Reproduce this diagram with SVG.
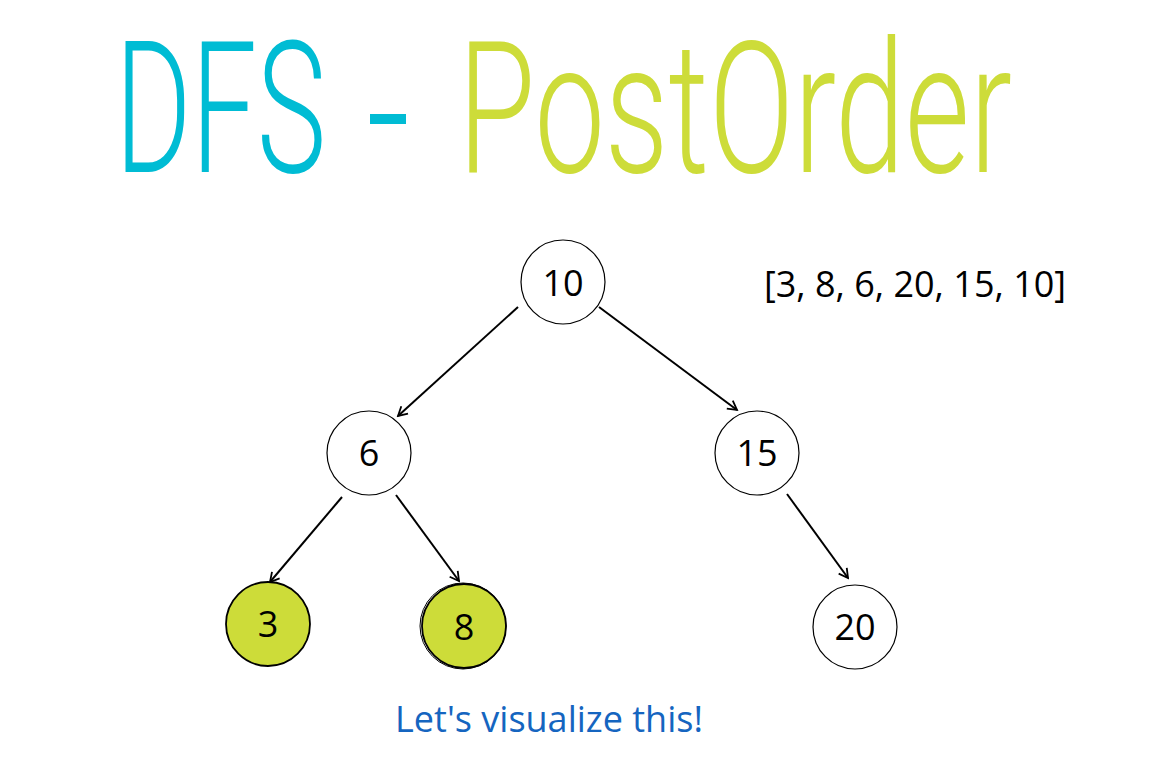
<svg xmlns="http://www.w3.org/2000/svg" width="1169" height="765" viewBox="0 0 1169 765">
<defs>
<style>
.node{fill:#fff;stroke:#000;stroke-width:1.2}
.hl{fill:#cddc39;stroke:#000;stroke-width:1.8}
.lbl{font-family:"Open Sans","Noto Sans",sans-serif;font-size:36px;fill:#000;text-anchor:middle}
.edge{stroke:#000;stroke-width:2;fill:none;marker-end:url(#arr)}
.title{font-family:Roboto,"Liberation Sans",sans-serif;font-weight:300;font-size:184px}
</style>
<marker id="arr" viewBox="0 0 12 12" refX="10" refY="6" markerWidth="12" markerHeight="12" markerUnits="userSpaceOnUse" orient="auto">
<path d="M1,1 L10,6 L1,11" fill="none" stroke="#000" stroke-width="1.8"/>
</marker>
</defs>
<rect width="1169" height="765" fill="#fff"/>
<g id="title">
<text class="title" x="115" y="172" fill="#00bcd4" textLength="211" lengthAdjust="spacingAndGlyphs">DFS</text>
<rect x="370" y="114" width="36" height="10" fill="#00bcd4"/>
<text class="title" x="458" y="172" fill="#cddc39" textLength="554" lengthAdjust="spacingAndGlyphs">PostOrder</text>
</g>
<g id="connectors">
<line class="edge" x1="518" y1="307" x2="398" y2="416"/>
<line class="edge" x1="599" y1="307" x2="737" y2="410"/>
<line class="edge" x1="342" y1="497" x2="270" y2="582"/>
<line class="edge" x1="396" y1="495" x2="459" y2="581"/>
<line class="edge" x1="787" y1="494" x2="848" y2="578"/>
</g>
<g id="node-10"><circle class="node" cx="563" cy="282" r="42"/><text class="lbl" x="563" y="296">10</text></g>
<g id="node-6"><circle class="node" cx="369" cy="453" r="42"/><text class="lbl" x="369" y="466">6</text></g>
<g id="node-15"><circle class="node" cx="757" cy="453" r="42"/><text class="lbl" x="757" y="466">15</text></g>
<g id="node-3"><circle class="hl" cx="268" cy="624" r="42"/><text class="lbl" x="268" y="637">3</text></g>
<g id="node-8"><circle class="hl" cx="464" cy="626" r="42"/><circle cx="463" cy="626" r="43" fill="none" stroke="#000" stroke-width="1"/><text class="lbl" x="464" y="640">8</text></g>
<g id="node-20"><circle class="node" cx="855" cy="627" r="42"/><text class="lbl" x="855" y="640">20</text></g>
<g id="result"><text class="lbl" x="915" y="297">[3, 8, 6, 20, 15, 10]</text></g>
<g id="caption"><text class="lbl" x="549" y="732" style="fill:#1565c0">Let's visualize this!</text></g>
</svg>
